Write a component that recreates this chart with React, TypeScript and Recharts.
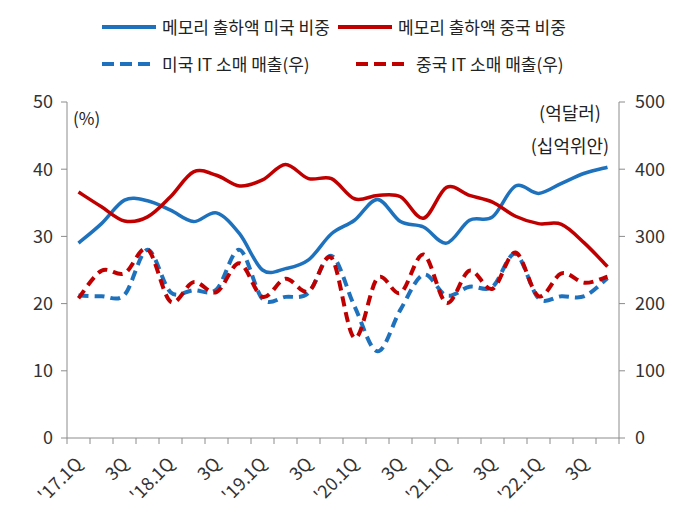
import { Line, LineChart, XAxis, YAxis } from "recharts";

const quarters = [
  "'17.1Q", "2Q", "3Q", "4Q",
  "'18.1Q", "2Q", "3Q", "4Q",
  "'19.1Q", "2Q", "3Q", "4Q",
  "'20.1Q", "2Q", "3Q", "4Q",
  "'21.1Q", "2Q", "3Q", "4Q",
  "'22.1Q", "2Q", "3Q", "4Q",
];

// memory shipment share (%), left axis
const usShare = [29.0, 31.9, 35.4, 35.3, 33.9, 32.2, 33.5, 30.4, 25.0, 25.2, 26.5, 30.4, 32.4, 35.5, 32.2, 31.4, 29.0, 32.4, 32.9, 37.5, 36.4, 37.9, 39.4, 40.3];
const cnShare = [36.6, 34.4, 32.3, 32.9, 35.9, 39.6, 39.1, 37.5, 38.4, 40.7, 38.6, 38.6, 35.6, 36.1, 35.9, 32.7, 37.3, 36.1, 35.1, 33.0, 31.9, 31.8, 29.0, 25.5];

// IT retail sales, right axis
const usRetail = [212, 211, 213, 280, 217, 220, 221, 280, 207, 210, 216, 271, 196, 129, 191, 243, 212, 225, 225, 274, 208, 211, 211, 238];
const cnRetail = [208, 249, 245, 281, 203, 232, 217, 260, 210, 237, 218, 268, 149, 238, 216, 273, 201, 249, 222, 276, 211, 245, 231, 240];

const leftTicks = [0, 10, 20, 30, 40, 50];
const rightTicks = [0, 100, 200, 300, 400, 500];

const BLUE = "#1E72BD";
const RED = "#C00000";
const AXIS = "#8c8c8c";
const FONT = "'Noto Sans CJK KR', 'Noto Sans', sans-serif";
const HALF_BAND = 11.5;

const data = quarters.map((q, i) => ({
  q,
  us: usShare[i],
  cn: cnShare[i],
  usR: usRetail[i],
  cnR: cnRetail[i],
}));

const legendRows = [
  [
    { label: "메모리 출하액 미국 비중", color: BLUE, dashed: false },
    { label: "메모리 출하액 중국 비중", color: RED, dashed: false },
  ],
  [
    { label: "미국 IT 소매 매출(우)", color: BLUE, dashed: true },
    { label: "중국 IT 소매 매출(우)", color: RED, dashed: true },
  ],
];

// Excel-style smoothed line (uniform Catmull-Rom through each point)
function smoothCurve(context: any) {
  let pts: number[][] = [];
  return {
    areaStart() {},
    areaEnd() {},
    lineStart() {
      pts = [];
    },
    lineEnd() {
      const n = pts.length;
      if (!n) return;
      context.moveTo(pts[0][0], pts[0][1]);
      for (let i = 0; i < n - 1; i++) {
        const p0 = pts[i - 1] || pts[i];
        const p1 = pts[i];
        const p2 = pts[i + 1];
        const p3 = pts[i + 2] || p2;
        context.bezierCurveTo(
          p1[0] + (p2[0] - p0[0]) / 6,
          p1[1] + (p2[1] - p0[1]) / 6,
          p2[0] - (p3[0] - p1[0]) / 6,
          p2[1] - (p3[1] - p1[1]) / 6,
          p2[0],
          p2[1]
        );
      }
    },
    point(x: number, y: number) {
      pts.push([+x, +y]);
    },
  };
}

// tick marks sit between quarters, labels every other quarter
function QuarterTick({ x, y, payload, index }: any) {
  const last = index === quarters.length - 1;
  const lx = x + 5;
  const ly = y + 27;
  return (
    <g>
      <line x1={x - HALF_BAND} x2={x - HALF_BAND} y1={y} y2={y + 6} stroke={AXIS} />
      {last && <line x1={x + HALF_BAND} x2={x + HALF_BAND} y1={y} y2={y + 6} stroke={AXIS} />}
      {index % 2 === 0 && (
        <text
          x={lx}
          y={ly}
          transform={`rotate(-45, ${lx}, ${ly})`}
          textAnchor="end"
          fontSize={18}
          fill="#333"
          fontFamily={FONT}
        >
          {payload.value}
        </text>
      )}
    </g>
  );
}

function LegendKey({ color, dashed }: { color: string; dashed: boolean }) {
  return (
    <svg width={56} height={8} style={{ marginRight: 5 }}>
      <line
        x1={1}
        x2={55}
        y1={4}
        y2={4}
        stroke={color}
        strokeWidth={4}
        strokeDasharray={dashed ? "12 6" : undefined}
      />
    </svg>
  );
}

export default function App() {
  return (
    <div style={{ position: "relative", width: 685, height: 517, fontFamily: FONT, background: "#fff" }}>
      <style>{"body{margin:0}"}</style>
      <LineChart
        width={685}
        height={517}
        data={data}
        margin={{ top: 102, right: 6, left: 7, bottom: 29 }}
      >
        <XAxis
          dataKey="q"
          interval={0}
          height={50}
          stroke={AXIS}
          tickLine={false}
          tickSize={0}
          tickMargin={0}
          padding={{ left: HALF_BAND, right: HALF_BAND }}
          tick={<QuarterTick />}
        />
        <YAxis
          yAxisId="l"
          domain={[0, 50]}
          ticks={leftTicks}
          width={60}
          stroke={AXIS}
          tickSize={6}
          tickMargin={8}
          tick={{ fill: "#333", fontSize: 18, fontFamily: FONT }}
        />
        <YAxis
          yAxisId="r"
          orientation="right"
          domain={[0, 500]}
          ticks={rightTicks}
          width={60}
          stroke={AXIS}
          tickSize={6}
          tickMargin={10}
          tick={{ fill: "#333", fontSize: 18, fontFamily: FONT }}
        />
        <Line yAxisId="r" dataKey="usR" type={smoothCurve as any} stroke={BLUE} strokeWidth={4} strokeDasharray="10 6" dot={false} isAnimationActive={false} />
        <Line yAxisId="r" dataKey="cnR" type={smoothCurve as any} stroke={RED} strokeWidth={4} strokeDasharray="10 6" dot={false} isAnimationActive={false} />
        <Line yAxisId="l" dataKey="us" type={smoothCurve as any} stroke={BLUE} strokeWidth={3.5} dot={false} isAnimationActive={false} />
        <Line yAxisId="l" dataKey="cn" type={smoothCurve as any} stroke={RED} strokeWidth={3.5} dot={false} isAnimationActive={false} />
      </LineChart>

      <div style={{ position: "absolute", left: 101, top: 8, fontSize: 17, color: "#222" }}>
        {legendRows.map((row, r) => (
          <div key={r} style={{ display: "flex", alignItems: "center", height: 37 }}>
            {row.map((item, i) => (
              <div
                key={i}
                style={{ display: "flex", alignItems: "center", width: i === 0 ? 236 : undefined, marginLeft: r === 1 && i === 1 ? 18 : 0 }}
              >
                <LegendKey color={item.color} dashed={item.dashed} />
                <span>{item.label}</span>
              </div>
            ))}
          </div>
        ))}
      </div>

      <div style={{ position: "absolute", left: 73, top: 105, fontSize: 17, color: "#222" }}>(%)</div>
      <div style={{ position: "absolute", left: 520, width: 100, top: 96, fontSize: 18, color: "#222", textAlign: "center", lineHeight: "33px" }}>
        <div>(억달러)</div>
        <div>(십억위안)</div>
      </div>
    </div>
  );
}
